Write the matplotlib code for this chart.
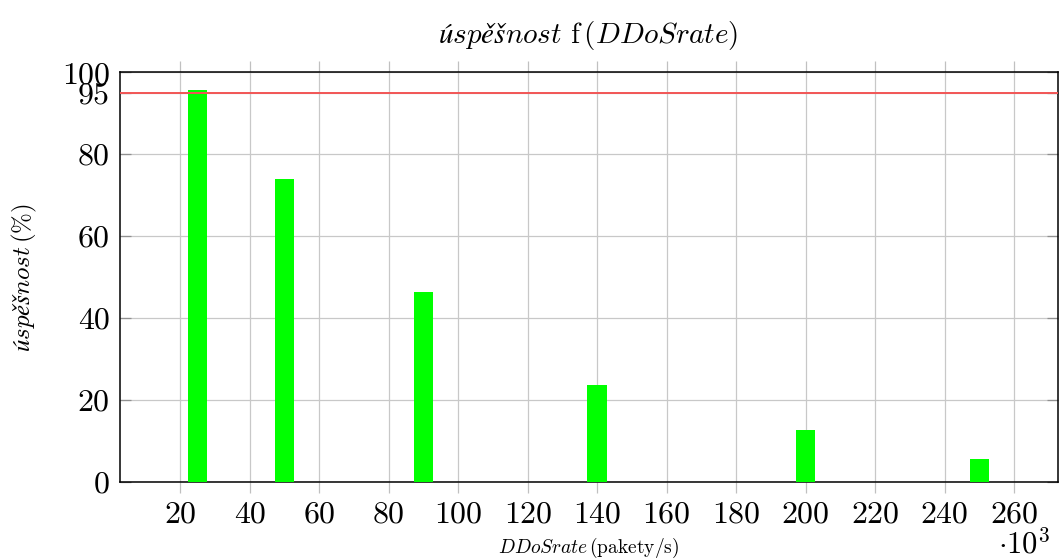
import matplotlib
matplotlib.use("Agg")
import matplotlib.pyplot as plt

plt.rcParams['font.family'] = ['cmr10', 'DejaVu Serif']
plt.rcParams['mathtext.fontset'] = 'cm'
plt.rcParams['axes.formatter.use_mathtext'] = True

# data (DDoS rate in thousands of packets/s, success in %)
rates = [25, 50, 90, 140, 200, 250]
success = [95.6, 74.0, 46.3, 23.6, 12.6, 5.7]
threshold = 95
xticks = [20, 40, 60, 80, 100, 120, 140, 160, 180, 200, 220, 240, 260]
yticks = [0, 20, 40, 60, 80, 95, 100]

W, H = 1059, 559
fig = plt.figure(figsize=(W / 100, H / 100), dpi=100)
left, right, top, bottom = 119.5, 1057.5, 72.3, 482.0
ax = fig.add_axes([left / W, 1 - bottom / H, (right - left) / W, (bottom - top) / H])

ax.bar(rates, success, width=5.6, color='#00ff00', edgecolor='none', zorder=3)
ax.axhline(threshold, color='#f25555', lw=1.4, zorder=4)

ax.set_xlim(2.5, 272.5)
ax.set_ylim(0, 100)
ax.set_xticks(xticks, labels=[str(t) for t in xticks])
ax.set_yticks(yticks, labels=[str(t) for t in yticks])

ax.grid(True, color='#c8c8c8', lw=0.9, zorder=0)
ax.set_axisbelow(True)
ax.tick_params(axis='x', direction='out', top=True, bottom=True, length=8,
               width=0.9, color='#c0c0c0', labelsize=23, pad=6)
ax.tick_params(axis='y', direction='in', left=True, right=True, length=8,
               width=0.9, color='#909090', labelsize=23, pad=7)
for s in ax.spines.values():
    s.set_linewidth(1.1)
    s.set_color('black')

fig.text((left + right) / 2 / W, 1 - 43 / H,
         r'$\mathit{úspěšnost}$ f$\,$($DDoSrate$)',
         ha='center', va='baseline', fontsize=21)
fig.text((left + right) / 2 / W, 1 - 553 / H,
         r'$DDoSrate\,$(pakety/s)', ha='center', va='baseline', fontsize=14)
fig.text(24 / W, 1 - 278 / H,
         r'$\mathit{úspěšnost}\,$(%)', ha='center', va='center',
         rotation=90, fontsize=18)
fig.text(1050 / W, 1 - 553 / H, r'$\cdot 10^3$', ha='right', va='baseline',
         fontsize=22)

fig.savefig('out.png', dpi=100)
